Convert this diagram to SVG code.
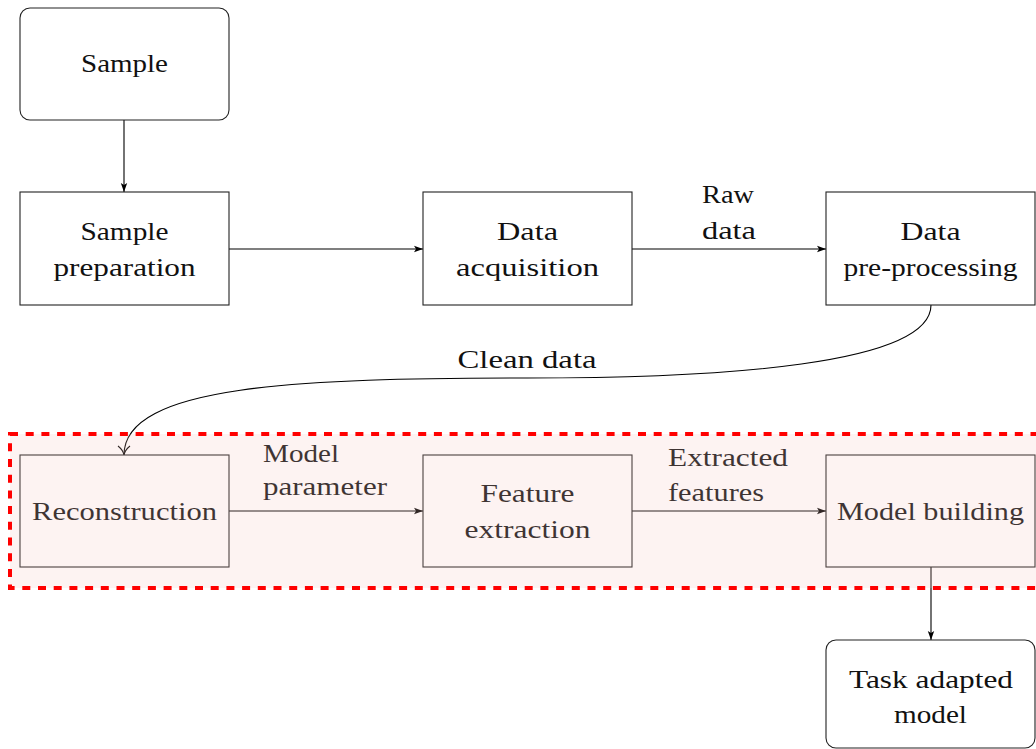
<svg xmlns="http://www.w3.org/2000/svg" width="1036" height="749" viewBox="0 0 1036 749">
<style>
.box{fill:#ffffff;stroke:#222;stroke-width:1.1}
.t{font-family:"Liberation Serif","Times New Roman",serif;font-size:26px;fill:#111;text-anchor:middle}
.tl{font-family:"Liberation Serif","Times New Roman",serif;font-size:26px;fill:#111;text-anchor:start}
.c{fill:none;stroke:#000;stroke-width:1.1}
</style>
<defs>
<marker id="ah" markerUnits="userSpaceOnUse" markerWidth="10" markerHeight="8" refX="9" refY="4" orient="auto">
<path d="M0,0.8 L9,4 L0,7.2 L2,4 Z" fill="#000"/>
</marker>
<marker id="oh" markerUnits="userSpaceOnUse" markerWidth="12" markerHeight="14" refX="10" refY="7" orient="auto">
<path d="M1,1 Q5,6 10,7 Q5,8 1,13" fill="none" stroke="#000" stroke-width="1.1"/>
</marker>
</defs>
<rect width="1036" height="749" fill="#fff"/>

<g id="connectors">
<line class="c" x1="124" y1="120" x2="124" y2="192" marker-end="url(#ah)"/>
<line class="c" x1="229" y1="249" x2="423" y2="249" marker-end="url(#ah)"/>
<line class="c" x1="632" y1="249" x2="826" y2="249" marker-end="url(#ah)"/>
<path class="c" d="M931,305 C931,365 720,378 527,378 C300,378 124,385 124,455" marker-end="url(#oh)"/>
<line class="c" x1="229" y1="511" x2="423" y2="511" marker-end="url(#ah)"/>
<line class="c" x1="632" y1="511" x2="826" y2="511" marker-end="url(#ah)"/>
<line class="c" x1="931" y1="567" x2="931" y2="640" marker-end="url(#ah)"/>
<text class="t" x="728" y="203" textLength="52" lengthAdjust="spacingAndGlyphs">Raw</text>
<text class="t" x="729" y="239" textLength="54" lengthAdjust="spacingAndGlyphs">data</text>
<text class="t" x="527" y="368" textLength="139" lengthAdjust="spacingAndGlyphs">Clean data</text>
<text class="tl" x="263" y="462" textLength="76" lengthAdjust="spacingAndGlyphs">Model</text>
<text class="tl" x="263" y="495" textLength="124" lengthAdjust="spacingAndGlyphs">parameter</text>
<text class="tl" x="668" y="466" textLength="120" lengthAdjust="spacingAndGlyphs">Extracted</text>
<text class="tl" x="668" y="501" textLength="96" lengthAdjust="spacingAndGlyphs">features</text>
</g>

<g id="sample">
<rect class="box" x="20" y="8" width="209" height="112" rx="10"/>
<text class="t" x="124.5" y="72" textLength="87" lengthAdjust="spacingAndGlyphs">Sample</text>
</g>
<g id="sample-preparation">
<rect class="box" x="20" y="192" width="209" height="113"/>
<text class="t" x="124.5" y="240" textLength="88" lengthAdjust="spacingAndGlyphs">Sample</text>
<text class="t" x="124.5" y="276" textLength="142" lengthAdjust="spacingAndGlyphs">preparation</text>
</g>
<g id="data-acquisition">
<rect class="box" x="423" y="192" width="209" height="113"/>
<text class="t" x="527.5" y="240" textLength="61" lengthAdjust="spacingAndGlyphs">Data</text>
<text class="t" x="527.5" y="276" textLength="143" lengthAdjust="spacingAndGlyphs">acquisition</text>
</g>
<g id="data-preprocessing">
<rect class="box" x="826" y="192" width="209" height="113"/>
<text class="t" x="930.5" y="240" textLength="60" lengthAdjust="spacingAndGlyphs">Data</text>
<text class="t" x="930.5" y="276" textLength="174" lengthAdjust="spacingAndGlyphs">pre-processing</text>
</g>
<g id="reconstruction">
<rect class="box" x="20" y="455" width="209" height="112"/>
<text class="t" x="124.5" y="520" textLength="185" lengthAdjust="spacingAndGlyphs">Reconstruction</text>
</g>
<g id="feature-extraction">
<rect class="box" x="423" y="455" width="209" height="112"/>
<text class="t" x="527.5" y="502" textLength="94" lengthAdjust="spacingAndGlyphs">Feature</text>
<text class="t" x="527.5" y="538" textLength="126" lengthAdjust="spacingAndGlyphs">extraction</text>
</g>
<g id="model-building">
<rect class="box" x="826" y="455" width="209" height="112"/>
<text class="t" x="930.5" y="520" textLength="187" lengthAdjust="spacingAndGlyphs">Model building</text>
</g>
<g id="task-adapted-model">
<rect class="box" x="826" y="640" width="209" height="108" rx="10"/>
<text class="t" x="931" y="688" textLength="164" lengthAdjust="spacingAndGlyphs">Task adapted</text>
<text class="t" x="930.5" y="723" textLength="73" lengthAdjust="spacingAndGlyphs">model</text>
</g>

<g id="highlight">
<rect x="10" y="434" width="1040" height="154" fill="rgb(245,195,190)" fill-opacity="0.2" stroke="#ff0000" stroke-width="4" stroke-dasharray="8 7.7"/>
</g>
</svg>
